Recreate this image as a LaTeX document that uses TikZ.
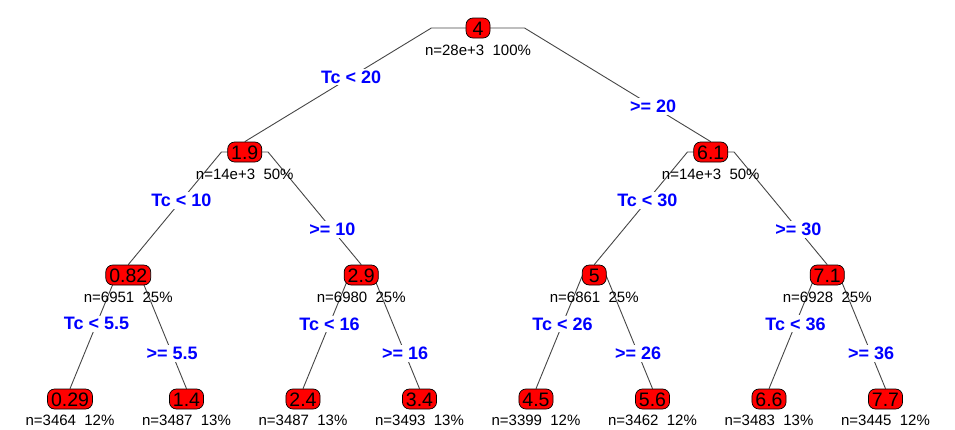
\documentclass[tikz,border=0pt]{standalone}
\usepackage{fontspec}
\setmainfont{Liberation Sans}
\usetikzlibrary{calc}
\pgfdeclarelayer{bg}
\pgfsetlayers{bg,main}
\definecolor{splitblue}{RGB}{0,0,255}
\definecolor{linegray}{RGB}{70,70,70}
\begin{document}
\begin{tikzpicture}[x=1pt,y=-1pt,
  treenode/.style={draw=black, fill=red, rounded corners=7pt,
    font=\fontsize{19.5}{19.5}\selectfont, text height=14pt, text depth=0pt,
    inner xsep=3.5pt, inner ysep=3pt, minimum width=24pt, line width=0.7pt},
  info/.style={font=\fontsize{15}{15}\selectfont, anchor=base, inner sep=0pt},
  splitlab/.style={font=\bfseries\fontsize{18}{18}\selectfont, text=splitblue,
    fill=white, inner sep=2pt},
  branch/.style={draw=linegray, line width=0.9pt}
]
\useasboundingbox (0,0) rectangle (955,429);
\newcommand{\gap}{\hspace{0.556em}}
% root
\node[treenode] (n1) at (478,28) {4};
\node[info] (i1) at (478,55) {n=28e+3\gap100\%};
% level 1
\node[treenode] (n2) at (244.75,152) {1.9};
\node[info] (i2) at (244.75,179) {n=14e+3\gap50\%};
\node[treenode] (n3) at (710.75,152) {6.1};
\node[info] (i3) at (710.75,179) {n=14e+3\gap50\%};
% level 2
\node[treenode] (n4) at (128.25,275) {0.82};
\node[info] (i4) at (128.25,302) {n=6951\gap25\%};
\node[treenode] (n5) at (361.25,275) {2.9};
\node[info] (i5) at (361.25,302) {n=6980\gap25\%};
\node[treenode] (n6) at (594.25,275) {5};
\node[info] (i6) at (594.25,302) {n=6861\gap25\%};
\node[treenode] (n7) at (827.25,275) {7.1};
\node[info] (i7) at (827.25,302) {n=6928\gap25\%};
% leaves
\node[treenode] (n8) at (70,399) {0.29};
\node[info] (i8) at (70,425) {n=3464\gap12\%};
\node[treenode] (n9) at (186.5,399) {1.4};
\node[info] (i9) at (186.5,425) {n=3487\gap13\%};
\node[treenode] (n10) at (303,399) {2.4};
\node[info] (i10) at (303,425) {n=3487\gap13\%};
\node[treenode] (n11) at (419.5,399) {3.4};
\node[info] (i11) at (419.5,425) {n=3493\gap13\%};
\node[treenode] (n12) at (536,399) {4.5};
\node[info] (i12) at (536,425) {n=3399\gap12\%};
\node[treenode] (n13) at (652.5,399) {5.6};
\node[info] (i13) at (652.5,425) {n=3462\gap12\%};
\node[treenode] (n14) at (769,399) {6.6};
\node[info] (i14) at (769,425) {n=3483\gap13\%};
\node[treenode] (n15) at (885.5,399) {7.7};
\node[info] (i15) at (885.5,425) {n=3445\gap12\%};
\begin{pgfonlayer}{bg}
% root
\draw[branch] (n1.center) -- ($(n1.center)!0.2!(n2.center |- n1.center)$)
  -- node[splitlab,pos=0.43] (s1) {Tc < 20} (n2.north);
\draw[branch] (n1.center) -- ($(n1.center)!0.2!(n3.center |- n1.center)$)
  -- node[splitlab,pos=0.69] (s2) {>= 20} (n3.north);
% level 1
\draw[branch] (n2.center) -- ($(n2.center)!0.2!(n4.center |- n2.center)$)
  -- node[splitlab,pos=0.43] (s3) {Tc < 10} (n4.north);
\draw[branch] (n2.center) -- ($(n2.center)!0.2!(n5.center |- n2.center)$)
  -- node[splitlab,pos=0.69] (s4) {>= 10} (n5.north);
\draw[branch] (n3.center) -- ($(n3.center)!0.2!(n6.center |- n3.center)$)
  -- node[splitlab,pos=0.43] (s5) {Tc < 30} (n6.north);
\draw[branch] (n3.center) -- ($(n3.center)!0.2!(n7.center |- n3.center)$)
  -- node[splitlab,pos=0.69] (s6) {>= 30} (n7.north);
% level 2
\draw[branch] (n4.center) -- ($(n4.center)!0.2!(n8.center |- n4.center)$)
  -- node[splitlab,pos=0.43] (s7) {Tc < 5.5} (n8.north);
\draw[branch] (n4.center) -- ($(n4.center)!0.2!(n9.center |- n4.center)$)
  -- node[splitlab,pos=0.69] (s8) {>= 5.5} (n9.north);
\draw[branch] (n5.center) -- ($(n5.center)!0.2!(n10.center |- n5.center)$)
  -- node[splitlab,pos=0.43] (s9) {Tc < 16} (n10.north);
\draw[branch] (n5.center) -- ($(n5.center)!0.2!(n11.center |- n5.center)$)
  -- node[splitlab,pos=0.69] (s10) {>= 16} (n11.north);
\draw[branch] (n6.center) -- ($(n6.center)!0.2!(n12.center |- n6.center)$)
  -- node[splitlab,pos=0.43] (s11) {Tc < 26} (n12.north);
\draw[branch] (n6.center) -- ($(n6.center)!0.2!(n13.center |- n6.center)$)
  -- node[splitlab,pos=0.69] (s12) {>= 26} (n13.north);
\draw[branch] (n7.center) -- ($(n7.center)!0.2!(n14.center |- n7.center)$)
  -- node[splitlab,pos=0.43] (s13) {Tc < 36} (n14.north);
\draw[branch] (n7.center) -- ($(n7.center)!0.2!(n15.center |- n7.center)$)
  -- node[splitlab,pos=0.69] (s14) {>= 36} (n15.north);
\end{pgfonlayer}
\end{tikzpicture}
\end{document}
